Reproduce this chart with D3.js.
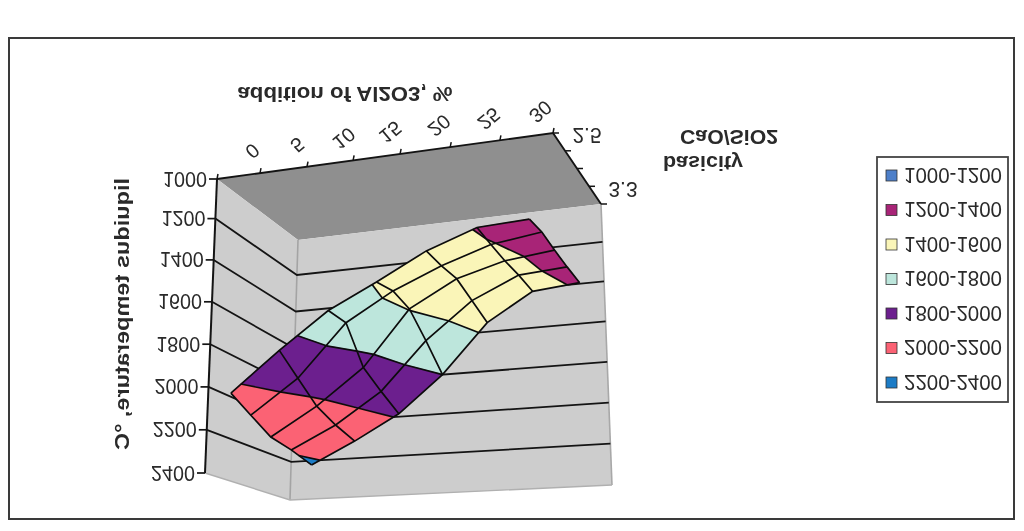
<!DOCTYPE html>
<html><head><meta charset="utf-8">
<script src="https://cdn.jsdelivr.net/npm/d3@7"></script>
<style>html,body{margin:0;background:#fff}svg{display:block;filter:blur(.6px)}text{font-family:"Liberation Sans",Arial,sans-serif;fill:#2a2a2a}</style>
</head><body><svg id="c" width="1024" height="531"></svg>
<script>
const additions=[0,5,10,15,20,25,30];
const basicity=[2.5,2.7,2.9,3.1,3.3];
const tempTicks=[1000,1200,1400,1600,1800,2000,2200,2400];
const legendLabels=["1000-1200","1200-1400","1400-1600","1600-1800","1800-2000","2000-2200","2200-2400"];
const bandColors=["#4d7fc9","#a82477","#faf5b8","#bde6dc","#6c1f8e","#fb6274","#1c7cc6"];
const temp25=[2038,1860,1698,1590,1473,1393,1383];
const temp27=[2100,1942,1699,1571,1477,1403,1372];
const temp29=[2164,2029,1859,1595,1472,1410,1385];
const temp31=[2187,2076,1924,1689,1511,1408,1392];
const temp33=[2222,2111,1985,1800,1553,1415,1395];
const rows=[temp25,temp27,temp29,temp31,temp33];

const svg=d3.select("#c");
const uS=d3.scaleBand().domain(additions).range([0,1]);
const vS=d3.scalePoint().domain(basicity).range([0,1]);
// slight perspective foreshortening of the box
const uP=d3.scaleLinear().domain(d3.range(8).map(k=>k/7)).range([0,.128,.268,.405,.545,.694,.842,1]);
const zS=d3.scalePow().exponent(1.03).domain([0,1400]).range([0,1]);
const mix=d3.interpolateNumber;
// box corners on screen: [back/front][left/right] at the 1000 and 2400 levels
const top_={bl:[217,179],br:[553,133],fr:[601,204],fl:[298,240]};
const bot_={bl:[205,473],br:[566,448],fr:[612,485],fl:[290,500]};
function bil(q,u,v,i){const b=mix(q.bl[i],q.br[i])(u),f=mix(q.fl[i],q.fr[i])(u);return mix(b,f)(v);}
function P(u,v,t){const z=zS(t-1000),w=uP(u);return [0,1].map(i=>mix(bil(top_,w,v,i),bil(bot_,w,v,i))(z));}
const path=pts=>"M"+pts.map(p=>p[0].toFixed(1)+","+p[1].toFixed(1)).join("L");
const poly=(pts,f,s,w)=>svg.append("path").attr("d",path(pts)+"Z").attr("fill",f).attr("stroke",s||"none").attr("stroke-width",w||0);
const line=(pts,s,w)=>svg.append("path").attr("d",path(pts)).attr("fill","none").attr("stroke",s).attr("stroke-width",w);

const flipText=(x,y,str,o={})=>{const t=svg.append("text").attr("transform",`translate(${x},${y}) scale(1,-1)`+(o.rot?` rotate(${o.rot})`:""))
 .attr("text-anchor",o.anchor||"middle").attr("dominant-baseline","central").attr("font-size",o.size||18).attr("font-weight",o.bold?"bold":"normal").text(str);
 if(o.len)t.attr("textLength",o.len).attr("lengthAdjust","spacingAndGlyphs");return t;};

// frame
svg.append("rect").attr("x",9).attr("y",38).attr("width",1005).attr("height",481).attr("fill","#fff").attr("stroke","#3a3a3a").attr("stroke-width",2);

// walls
poly([P(0,0,1000),P(1,0,1000),P(1,1,1000),P(0,1,1000)],"#8f8f8f");
poly([P(0,0,1000),P(0,1,1000),P(0,1,2400),P(0,0,2400)],"#cdcdcd");
poly([P(0,1,1000),P(1,1,1000),P(1,1,2400),P(0,1,2400)],"#cdcdcd");
line([P(0,1,1000),P(0,1,2400)],"#a4a4a4",1.6);
line([P(1,1,1000),P(1,1,2400)],"#a8a8a8",1.6);
line([P(0,0,2400),P(0,1,2400),P(1,1,2400)],"#b0b0b0",1.4);
// gridlines
tempTicks.slice(1,-1).forEach(t=>{
 line([P(0,0,t),P(0,1,t),P(1,1,t)],"#141414",1.8);
});
// axes
line([P(0,0,1000),P(0,0,2400)],"#141414",2);
line([P(0,0,1000),P(1,0,1000),P(1,1,1000)],"#141414",1.9);
tempTicks.forEach(t=>{const p=P(0,0,t);line([[p[0]-8,p[1]],p],"#141414",1.7);
 flipText(p[0]-10,p[1],t,{anchor:"end",size:22,len:44});});
d3.range(8).forEach(k=>{const p=P(k/7,0,1000);line([p,[p[0]+1,p[1]-5]],"#141414",1.5);});
vS.domain().forEach(b=>{const p=P(1,vS(b),1000);line([p,[p[0]+6,p[1]]],"#141414",1.5);});
additions.forEach(a=>{const u=uS(a)+uS.bandwidth()/2,p=P(u,0,1000);
 flipText(p[0]+14,p[1]-25,a,{size:20,rot:40});});
[2.5,3.3].forEach(b=>{const p=P(1,vS(b),1000);flipText(p[0]+(b==2.5?34:22),p[1]+(b==2.5?2:-15),b.toFixed(1),{size:22,len:29});});

// surface
const uOf=i=>uS(additions[i])+uS.bandwidth()/2, vOf=j=>vS(basicity[j]);
function clip(pts,level,keepAbove){const out=[];
 pts.forEach((a,i)=>{const b=pts[(i+1)%pts.length];
  const ai=keepAbove?a.t>=level:a.t<=level, bi=keepAbove?b.t>=level:b.t<=level;
  if(ai)out.push(a);
  if(ai!==bi){const f=(level-a.t)/(b.t-a.t);out.push({u:a.u+f*(b.u-a.u),v:a.v+f*(b.v-a.v),t:level});}
 });return out;}
const segs=[];
for(let j=0;j<rows.length-1;j++)for(let i=0;i<additions.length-1;i++){
 const cell=[[i,j],[i+1,j],[i+1,j+1],[i,j+1]].map(([a,b])=>({u:uOf(a),v:vOf(b),t:rows[b][a]}));
 tempTicks.slice(0,-1).forEach((lo,k)=>{const hi=tempTicks[k+1];
  let pg=clip(clip(cell,lo,true),hi,false); if(pg.length<3)return;
  const sp=pg.map(p=>P(p.u,p.v,p.t));
  poly(sp,bandColors[k],bandColors[k],.6);
  pg.forEach((a,n)=>{const b=pg[(n+1)%pg.length];
   if(a.t===hi&&b.t===hi)segs.push([P(a.u,a.v,a.t),P(b.u,b.v,b.t)]);});
 });
}
segs.forEach(s=>line(s,"#0c0c0c",1.7));
rows.forEach((r,j)=>line(r.map((t,i)=>P(uOf(i),vOf(j),t)),"#0c0c0c",1.7));
additions.forEach((a,i)=>line(rows.map((r,j)=>P(uOf(i),vOf(j),r[i])),"#0c0c0c",1.7));

// titles
flipText(345,94,"addition of Al2O3, %",{bold:true,size:21,len:215});
flipText(729,137,"CaO/SiO2",{bold:true,size:21,len:98});
flipText(703,163,"basicity",{bold:true,size:21,len:80});
svg.append("text").attr("transform","translate(122,314) scale(1,-1) rotate(-90)").attr("text-anchor","middle").attr("dominant-baseline","central")
 .attr("font-size",20).attr("font-weight","bold").attr("textLength",272).attr("lengthAdjust","spacingAndGlyphs").text("liquidus temperature, °C");

// legend
svg.append("rect").attr("x",877).attr("y",157).attr("width",131).attr("height",245).attr("fill","#fff").attr("stroke","#444").attr("stroke-width",1.8);
const ly=d3.scalePoint().domain(legendLabels).range([175,382]);
legendLabels.forEach((l,i)=>{
 svg.append("rect").attr("x",886).attr("y",ly(l)-5).attr("width",11).attr("height",11).attr("fill",bandColors[i]).attr("stroke","#333").attr("stroke-width",.8);
 flipText(904,ly(l),l,{anchor:"start",size:22,len:98});
});
</script></body></html>
